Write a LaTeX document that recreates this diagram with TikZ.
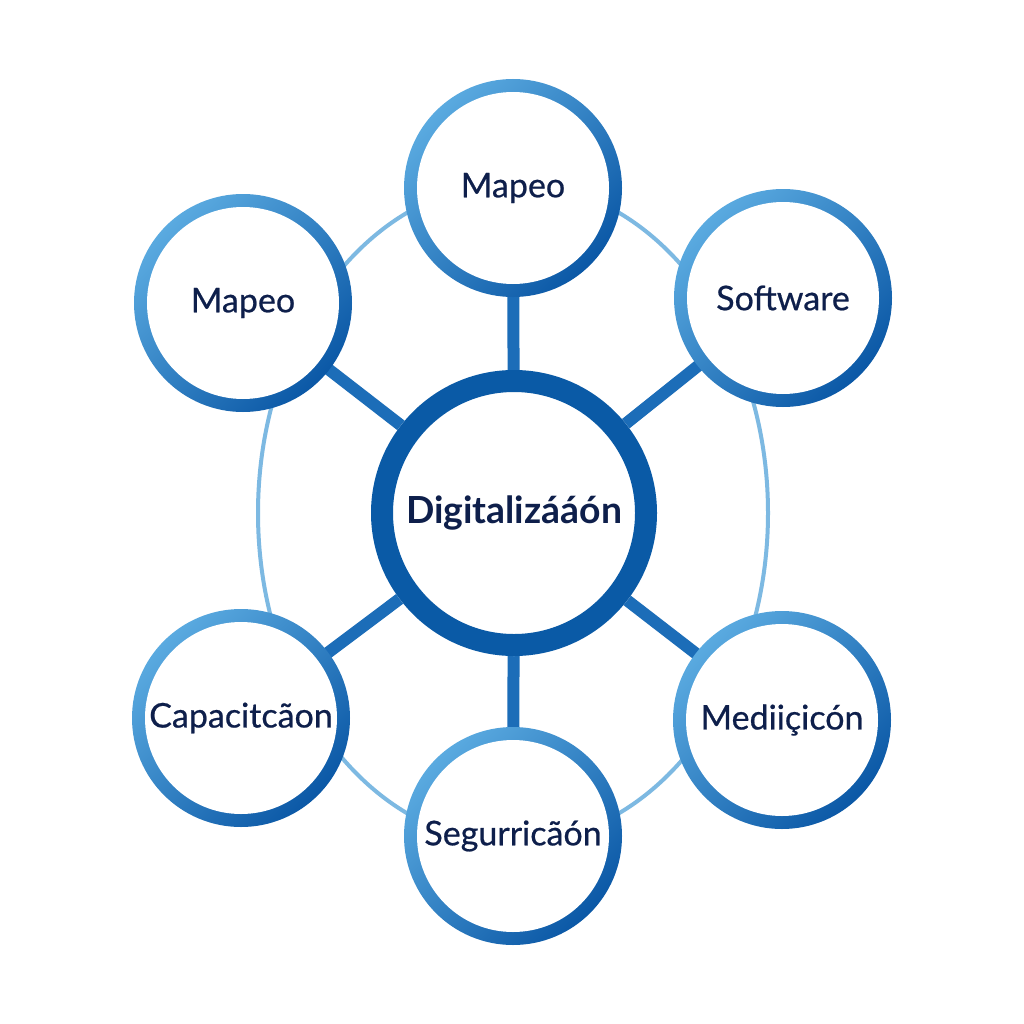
\documentclass[tikz,border=0pt]{standalone}
\usepackage{fontspec}
\setmainfont{Lato}
\newfontface\satfont{Lato}[FakeBold=0.6]
\definecolor{ringlight}{HTML}{5AAAE0}
\definecolor{ringdark}{HTML}{0B58A6}
\definecolor{centerring}{HTML}{0A5AA6}
\definecolor{linkblue}{HTML}{1C6DB8}
\definecolor{orbitblue}{HTML}{7DB9E2}
\definecolor{textnavy}{HTML}{0E1F4B}
\tikzset{
  sat/.style={circle, inner sep=0pt, minimum size=218*0.75pt, font=\satfont\fontsize{25.5}{29}\selectfont, text=textnavy},
  hub/.style={circle, inner sep=0pt, minimum size=286*0.75pt, font=\fontsize{28}{32}\selectfont\bfseries, text=textnavy},
  link/.style={draw=linkblue, line width=9pt},
  orbit/.style={draw=orbitblue, line width=3pt},
}
\newcommand{\satring}[1]{%
  \shade[top color=ringlight, bottom color=ringdark, shading angle=45] (#1) circle (109);
  \fill[white] (#1) circle (96);
}
\begin{document}
\begin{tikzpicture}[x=0.75pt,y=-0.75pt]
\useasboundingbox (0,0) rectangle (1024,1024);
\fill[white] (0,0) rectangle (1024,1024);
% orbit
\draw[orbit] (513,513) ellipse [x radius=255, y radius=330];
% nodes (positions)
\node[hub] (c) at (514,513) {};
\node[sat] (t) at (513,188) {};
\node[sat] (tl) at (243,303) {};
\node[sat] (tr) at (783,298) {};
\node[sat] (bl) at (241,718) {};
\node[sat] (br) at (782,720) {};
\node[sat] (b) at (513,836) {};
% connectors
\foreach \s in {t,tl,tr,bl,br,b} { \draw[link] (c.center) -- (\s.center); }
% satellites
\foreach \s in {t,tl,tr,bl,br,b} { \satring{\s.center} }
% hub
\fill[white] (c.center) circle (143);
\draw[centerring, line width=16.5pt] (c.center) circle (132);
% labels
\node[sat] at (t) {Mapeo};
\node[sat] at (tl) {Mapeo};
\node[sat] at (tr) {Software};
\node[sat] at (bl) {Capacitcãon};
\node[sat] at (br) {Mediiçicón};
\node[sat] at (b) {Segurricãón};
\node[hub] at (c) {Digitalizááón};
\end{tikzpicture}
\end{document}
